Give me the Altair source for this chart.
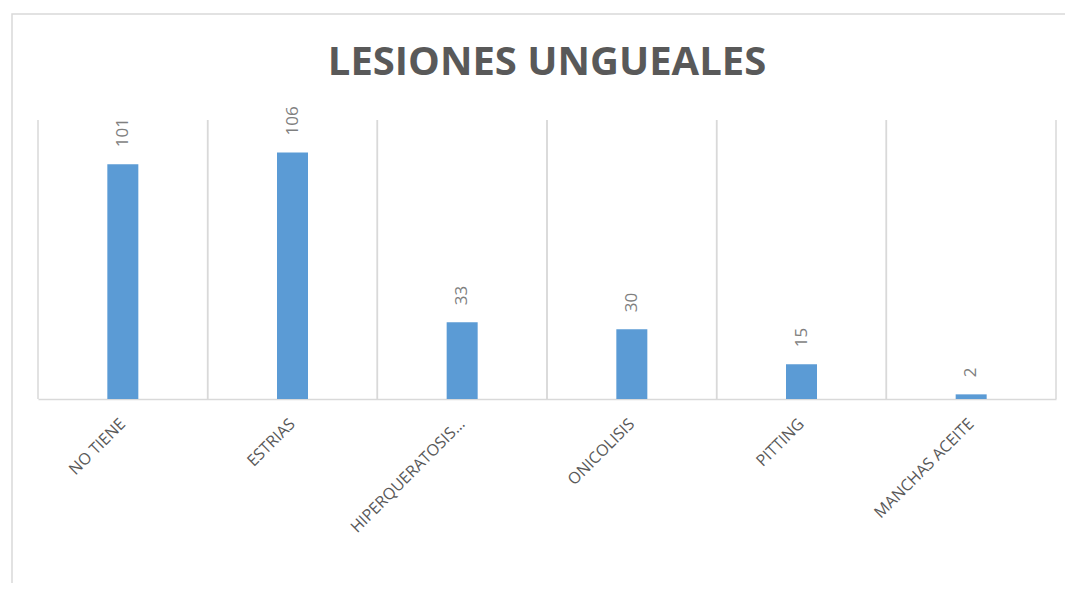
import altair as alt
import pandas as pd

title_text = ["LESIONES UNGUEALES"]
categories = ["NO TIENE", "ESTRIAS", "HIPERQUERATOSIS…", "ONICOLISIS", "PITTING", "MANCHAS ACEITE"]
values = [101, 106, 33, 30, 15, 2]

df = pd.DataFrame({"cat": categories, "val": values})
tdf = pd.DataFrame({"t": title_text})

W, H = 1018, 279
FONT = "Open Sans"

xscale = alt.Scale(domain=categories, paddingInner=0, paddingOuter=0)
yscale = alt.Scale(domain=[0, 120])

base = alt.Chart(df)

frame = alt.Chart(tdf).mark_rect(
    fill=None, stroke="#d9d9d9", strokeWidth=1.5
).encode(x=alt.value(-26), x2=alt.value(W + 60), y=alt.value(-106), y2=alt.value(H + 260))

title = alt.Chart(tdf).mark_text(
    font=FONT, fontSize=40, fontWeight="bold", color="#595959",
    align="center", baseline="alphabetic",
).encode(x=alt.value(W / 2), y=alt.value(-45), text="t:N")

grid_left = base.mark_rule(color="#d9d9d9", strokeWidth=1.5).encode(
    x=alt.X("cat:N", scale=xscale, bandPosition=0, sort=categories),
    y=alt.value(0), y2=alt.value(H),
)
grid_right = base.mark_rule(color="#d9d9d9", strokeWidth=1.5).encode(
    x=alt.X("cat:N", scale=xscale, bandPosition=1, sort=categories),
    y=alt.value(0), y2=alt.value(H),
)

bars = base.mark_bar(color="#5B9BD5", width=31).encode(
    x=alt.X(
        "cat:N", scale=xscale, sort=categories, title=None,
        axis=alt.Axis(
            labelAngle=-45, labelAlign="right", labelBaseline="middle",
            labelFont=FONT, labelFontSize=16, labelColor="#595959",
            labelPadding=22, ticks=False, domain=True, domainColor="#d9d9d9",
            domainWidth=1.5, grid=False, labelLimit=300,
        ),
    ),
    y=alt.Y("val:Q", scale=yscale, axis=None),
)

labels = base.mark_text(
    angle=270, align="left", baseline="middle", dx=17,
    font=FONT, fontSize=17, color="#7f7f7f",
).encode(
    x=alt.X("cat:N", scale=xscale, sort=categories),
    y=alt.Y("val:Q", scale=yscale),
    text=alt.Text("val:Q"),
)

chart = alt.layer(frame, title, grid_left, grid_right, bars, labels).properties(
    width=W, height=H,
    autosize=alt.AutoSizeParams(type="none"),
    padding={"left": 30, "top": 112, "right": 9, "bottom": 184},
).configure_view(stroke=None)

chart.save("out.html", embed_options={"renderer": "svg", "actions": False})
